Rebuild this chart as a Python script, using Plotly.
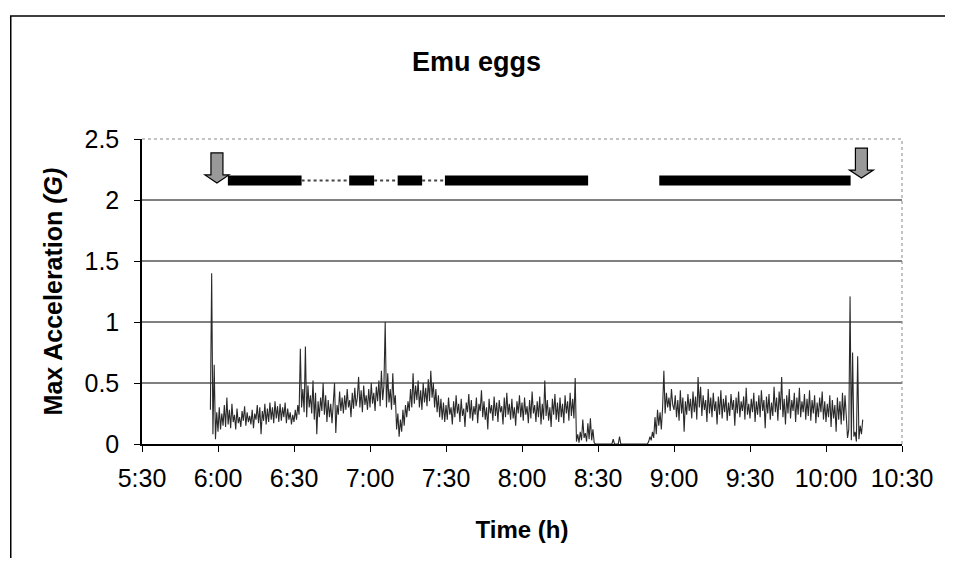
import plotly.graph_objects as go

# ---------------- data ----------------
STEP_MIN = 0.5  # sampling interval (minutes)

# Max acceleration (G), one value every 0.5 min, per time window (start given as h, min)
acc_0557 = [0.28, 1.40, 0.08, 0.65, 0.04, 0.26]
acc_0600 = [0.10, 0.30, 0.12, 0.25, 0.15, 0.32, 0.14, 0.38, 0.16, 0.28,
            0.13, 0.33, 0.18, 0.24, 0.12, 0.29, 0.17, 0.22, 0.14, 0.27,
            0.19, 0.31, 0.15, 0.26, 0.18, 0.23, 0.16, 0.28, 0.13, 0.25,
            0.20, 0.32, 0.17, 0.30, 0.08, 0.27, 0.19, 0.33, 0.16, 0.29,
            0.18, 0.34, 0.20, 0.30, 0.17, 0.35, 0.21, 0.31, 0.18, 0.33,
            0.19, 0.30, 0.22, 0.34, 0.17, 0.29, 0.20, 0.26, 0.16, 0.24]
acc_0630 = [0.18, 0.28, 0.20, 0.32, 0.24, 0.78, 0.30, 0.45, 0.26, 0.80,
            0.22, 0.48, 0.30, 0.40, 0.25, 0.52, 0.20, 0.42, 0.08, 0.35,
            0.22, 0.38, 0.27, 0.50, 0.24, 0.40, 0.18, 0.36, 0.22, 0.33,
            0.17, 0.30, 0.50, 0.09, 0.32, 0.24, 0.43, 0.27, 0.38, 0.25,
            0.40, 0.28, 0.45, 0.30, 0.36, 0.22, 0.42, 0.29, 0.46, 0.31,
            0.38, 0.55, 0.30, 0.44, 0.26, 0.48, 0.32, 0.40, 0.28, 0.45]
acc_0700 = [0.30, 0.50, 0.33, 0.42, 0.27, 0.47, 0.35, 0.52, 0.31, 0.60,
            0.36, 0.48, 1.00, 0.30, 0.58, 0.34, 0.45, 0.28, 0.58, 0.32,
            0.40, 0.12, 0.25, 0.06, 0.20, 0.10, 0.28, 0.15, 0.32, 0.22,
            0.35, 0.27, 0.45, 0.30, 0.58, 0.33, 0.48, 0.36, 0.52, 0.30,
            0.44, 0.28, 0.50, 0.34, 0.46, 0.31, 0.53, 0.35, 0.60, 0.38,
            0.50, 0.30, 0.45, 0.26, 0.40, 0.22, 0.37, 0.20, 0.34, 0.18]
acc_0730 = [0.32, 0.20, 0.38, 0.24, 0.30, 0.16, 0.35, 0.22, 0.40, 0.25,
            0.33, 0.18, 0.37, 0.23, 0.29, 0.14, 0.34, 0.26, 0.41, 0.21,
            0.36, 0.19, 0.31, 0.24, 0.38, 0.17, 0.33, 0.27, 0.44, 0.22,
            0.35, 0.20, 0.30, 0.12, 0.37, 0.25, 0.32, 0.19, 0.39, 0.23,
            0.34, 0.18, 0.36, 0.26, 0.31, 0.16, 0.38, 0.22, 0.42, 0.24,
            0.33, 0.20, 0.37, 0.21, 0.30, 0.15, 0.35, 0.25, 0.40, 0.22]
acc_0800 = [0.34, 0.19, 0.38, 0.24, 0.31, 0.17, 0.36, 0.21, 0.43, 0.25,
            0.32, 0.18, 0.35, 0.22, 0.39, 0.16, 0.33, 0.20, 0.52, 0.23,
            0.36, 0.19, 0.30, 0.14, 0.37, 0.24, 0.41, 0.20, 0.34, 0.18,
            0.38, 0.22, 0.33, 0.17, 0.40, 0.25, 0.35, 0.19, 0.42, 0.23,
            0.37, 0.21, 0.54, 0.02, 0.08, 0.01, 0.10, 0.03, 0.20, 0.05,
            0.09, 0.02, 0.17, 0.04, 0.21, 0.03, 0.12, 0.01, 0.00, 0.00]
acc_0830 = [0.00, 0.00, 0.00, 0.00, 0.00, 0.00, 0.00, 0.00, 0.00, 0.00,
            0.00, 0.00, 0.04, 0.00, 0.00, 0.00, 0.00, 0.06, 0.00, 0.00,
            0.00, 0.00, 0.00, 0.00, 0.00, 0.00, 0.00, 0.00, 0.00, 0.00,
            0.00, 0.00, 0.00, 0.00, 0.00, 0.00, 0.00, 0.00, 0.00, 0.00,
            0.02, 0.06, 0.03, 0.10, 0.05, 0.22, 0.08, 0.28, 0.15, 0.26,
            0.12, 0.30, 0.60, 0.25, 0.42, 0.30, 0.38, 0.27, 0.45, 0.32]
acc_0900 = [0.28, 0.40, 0.22, 0.36, 0.19, 0.44, 0.25, 0.38, 0.10, 0.35,
            0.24, 0.41, 0.27, 0.37, 0.21, 0.43, 0.26, 0.39, 0.20, 0.55,
            0.30, 0.47, 0.23, 0.40, 0.28, 0.36, 0.18, 0.45, 0.25, 0.38,
            0.22, 0.42, 0.27, 0.35, 0.16, 0.39, 0.24, 0.44, 0.21, 0.37,
            0.26, 0.40, 0.19, 0.34, 0.23, 0.41, 0.28, 0.36, 0.15, 0.38,
            0.25, 0.43, 0.22, 0.35, 0.27, 0.39, 0.20, 0.46, 0.24, 0.33]
acc_0930 = [0.21, 0.37, 0.26, 0.42, 0.18, 0.35, 0.24, 0.40, 0.22, 0.44,
            0.27, 0.36, 0.13, 0.39, 0.25, 0.41, 0.20, 0.34, 0.23, 0.47,
            0.26, 0.38, 0.19, 0.43, 0.28, 0.55, 0.22, 0.37, 0.16, 0.40,
            0.25, 0.45, 0.21, 0.36, 0.27, 0.42, 0.18, 0.38, 0.24, 0.46,
            0.22, 0.35, 0.26, 0.41, 0.20, 0.37, 0.23, 0.44, 0.19, 0.36,
            0.25, 0.40, 0.17, 0.34, 0.22, 0.38, 0.26, 0.43, 0.20, 0.35]
acc_1000 = [0.18, 0.33, 0.22, 0.40, 0.14, 0.36, 0.21, 0.32, 0.10, 0.38,
            0.20, 0.35, 0.16, 0.42, 0.19, 0.40, 0.23, 0.05, 0.12, 1.21,
            0.03, 0.75, 0.06, 0.10, 0.02, 0.72, 0.04, 0.15, 0.08, 0.20]

segment_starts = [(5, 57), (6, 0), (6, 30), (7, 0), (7, 30), (8, 0),
                  (8, 30), (9, 0), (9, 30), (10, 0)]
segments = [acc_0557, acc_0600, acc_0630, acc_0700, acc_0730, acc_0800,
            acc_0830, acc_0900, acc_0930, acc_1000]

# activity bars (hours, decimal): solid = black, dotted = intermittent
bar_solid_start = [6.065, 6.863, 7.182, 7.493, 8.903]
bar_solid_end = [6.550, 7.027, 7.343, 8.435, 10.162]
bar_dotted_start = [6.550, 7.027, 7.343]
bar_dotted_end = [6.863, 7.182, 7.493]
bar_level = 2.16

# arrows marking start / end of recording (hours, G at arrow tip)
arrow_times = [5.993, 10.233]
arrow_tips = [2.14, 2.18]

x_tickvals = [5.5, 6.0, 6.5, 7.0, 7.5, 8.0, 8.5, 9.0, 9.5, 10.0, 10.5]
x_ticktext = ["5:30", "6:00", "6:30", "7:00", "7:30", "8:00", "8:30",
              "9:00", "9:30", "10:00", "10:30"]
y_tickvals = [0, 0.5, 1, 1.5, 2, 2.5]
y_ticktext = ["0", "0.5", "1", "1.5", "2", "2.5"]
grid_levels = [0.5, 1.0, 1.5, 2.0]

# ---------------- build ----------------
times, values = [], []
for (h, m), seg in zip(segment_starts, segments):
    for i, v in enumerate(seg):
        times.append(h + (m + i * STEP_MIN) / 60.0)
        values.append(v)

FONT = "Liberation Sans, Arial, sans-serif"
FIG_W, FIG_H = 937, 550
fig = go.Figure()

fig.add_trace(go.Scatter(x=times, y=values, mode="lines",
                         line=dict(color="#2a2a2a", width=1.1),
                         showlegend=False, hoverinfo="x+y"))

# activity bars
bx, by = [], []
for s, e in zip(bar_solid_start, bar_solid_end):
    bx += [s, e, None]
    by += [bar_level, bar_level, None]
fig.add_trace(go.Scatter(x=bx, y=by, mode="lines",
                         line=dict(color="black", width=10),
                         showlegend=False, hoverinfo="skip"))
dx, dy = [], []
for s, e in zip(bar_dotted_start, bar_dotted_end):
    dx += [s, e, None]
    dy += [bar_level, bar_level, None]
fig.add_trace(go.Scatter(x=dx, y=dy, mode="lines",
                         line=dict(color="#444444", width=2, dash="dot"),
                         showlegend=False, hoverinfo="skip"))

shapes = []
# gridlines
for g in grid_levels:
    shapes.append(dict(type="line", xref="paper", yref="y", x0=0, x1=1,
                       y0=g, y1=g, line=dict(color="black", width=1),
                       layer="below"))
# dotted top/right plot border
shapes.append(dict(type="line", xref="paper", yref="paper", x0=0, x1=1,
                   y0=1, y1=1, line=dict(color="#888888", width=1, dash="dot")))
shapes.append(dict(type="line", xref="paper", yref="paper", x0=1, x1=1,
                   y0=0, y1=1, line=dict(color="#888888", width=1, dash="dot")))
# block arrows
arrow_path = "M -6,30 L 6,30 L 6,8 L 12,8 L 0,0 L -12,8 L -6,8 Z"
for t, tip in zip(arrow_times, arrow_tips):
    shapes.append(dict(type="path", xref="x", yref="y",
                       xsizemode="pixel", ysizemode="pixel",
                       xanchor=t, yanchor=tip, path=arrow_path,
                       fillcolor="#999999", line=dict(color="black", width=1.2)))
# outer frame of the figure (left and top edges; it runs off right and bottom)
shapes.append(dict(type="path", xref="paper", yref="paper",
                   path="M -0.1727,-0.7 L -0.1727,1.403 L 1.25,1.403",
                   line=dict(color="black", width=1.5)))

fig.update_layout(
    width=FIG_W, height=FIG_H,
    margin=dict(l=134, r=33, t=131, b=114),
    paper_bgcolor="white", plot_bgcolor="white",
    font=dict(family=FONT, color="black", size=25),
    title=dict(text="<b>Emu eggs</b>", x=0.5 * 953 / FIG_W - 8 / FIG_W,
               xref="container", xanchor="center",
               y=1 - 54 / FIG_H, yref="container", yanchor="middle",
               font=dict(size=27, family=FONT, color="black")),
    shapes=shapes,
    showlegend=False,
)
fig.update_xaxes(range=[5.5, 10.5], tickvals=x_tickvals, ticktext=x_ticktext,
                 showgrid=False, zeroline=False, showline=True,
                 linecolor="black", linewidth=1.5, ticks="outside",
                 ticklen=6, tickcolor="black", tickfont=dict(size=25),
                 ticklabelstandoff=5,
                 title=dict(text="<b>Time (h)</b>", font=dict(size=24),
                            standoff=30))
fig.update_yaxes(range=[0, 2.5], tickvals=y_tickvals, ticktext=y_ticktext,
                 showgrid=False, zeroline=False, showline=True,
                 linecolor="black", linewidth=1.5, ticks="outside",
                 ticklen=6, tickcolor="black", tickfont=dict(size=25),
                 ticklabelstandoff=10,
                 title=dict(text="<b>Max Acceleration <i>(G)</i></b>",
                            font=dict(size=25), standoff=15))

fig.write_html("out.html")
